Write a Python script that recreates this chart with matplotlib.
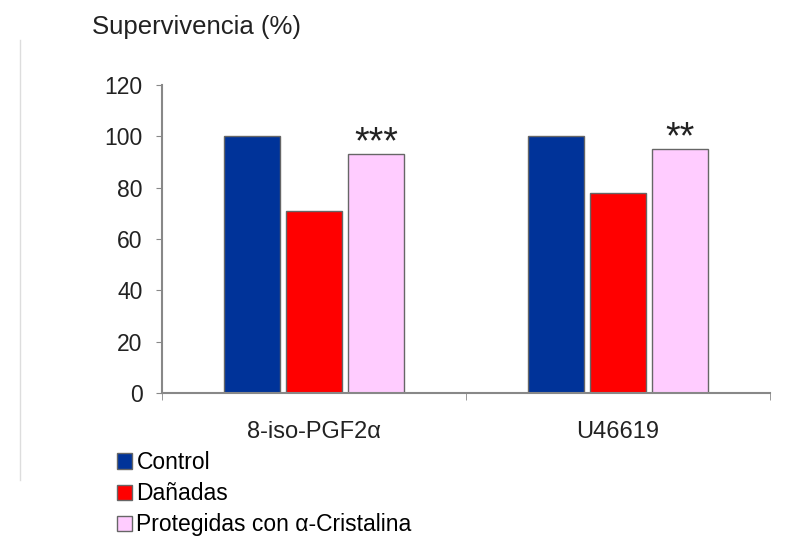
import matplotlib.pyplot as plt
import numpy as np
from matplotlib.lines import Line2D

plt.rcParams['font.family'] = ['Liberation Sans', 'DejaVu Sans']

groups = ['8-iso-PGF2α', 'U46619']
series = ['Control', 'Dañadas', 'Protegidas con α-Cristalina']
control = [100, 100]
danadas = [71, 78]
protegidas = [93, 95]
stars = ['***', '**']

colors = ['#003399', '#ff0000', '#ffccff']

fig = plt.figure(figsize=(7.88, 5.36), dpi=100)
ax = fig.add_axes([0.2056, 0.2668, 0.7714, 0.5746])

x = np.arange(len(groups))
w = 0.184
step = 0.204
values = [control, danadas, protegidas]
for i in range(0, 3):
    ax.bar(x + (i - 1) * step, values[i], w, color=colors[i],
           edgecolor='#666666', linewidth=1.0, label=series[i], zorder=2)

# significance marks above the protected bars
for j in range(0, len(groups)):
    ax.text(x[j] + step, protegidas[j] + 0.5, stars[j], ha='center', va='baseline',
            fontsize=27, color='#222222')

ax.set_xlim(-0.5, 1.5)
ax.set_ylim(0, 120)
ax.set_yticks(np.arange(0, 121, 20))
ax.set_xticks(x)
ax.set_xticklabels(groups)
ax.set_xticks([-0.5, 0.5, 1.5], minor=True)
ax.tick_params(axis='x', which='major', length=0, pad=20, labelsize=17, labelcolor='#222222')
ax.tick_params(axis='x', which='minor', length=5, color='#888888', direction='out')
ax.tick_params(axis='y', length=4, color='#888888', labelsize=16.5, labelcolor='#222222', pad=10)

for s in ['top', 'right']:
    ax.spines[s].set_visible(False)
ax.spines['left'].set_color('#888888')
ax.spines['bottom'].set_color('#888888')
ax.spines['left'].set_linewidth(1.5)
ax.spines['bottom'].set_linewidth(1.5)

fig.text(92 / 788, 1 - 27 / 536, 'Supervivencia (%)', fontsize=18.5, color='#222222',
         ha='left', va='center')

# faint frame line on the left of the original picture
fig.add_artist(Line2D([20 / 788, 20 / 788], [1 - 480 / 536, 1 - 40 / 536],
                      color='#dddddd', linewidth=1))

fig.legend(loc='upper left', bbox_to_anchor=(117 / 788, 1 - 451 / 536), frameon=False,
           fontsize=16.5, handlelength=0.65, handleheight=0.65, handletextpad=0.2,
           labelspacing=0.36, borderpad=0, borderaxespad=0)

plt.savefig('out.png', dpi=100)
